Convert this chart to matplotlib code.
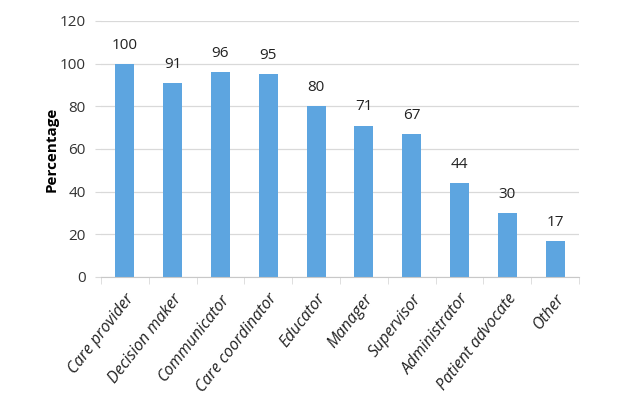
import matplotlib
matplotlib.use("Agg")
import matplotlib.pyplot as plt
import numpy as np

categories = ["Care provider", "Decision maker", "Communicator", "Care coordinator",
              "Educator", "Manager", "Supervisor", "Administrator",
              "Patient advocate", "Other"]
values = [100, 91, 96, 95, 80, 71, 67, 44, 30, 17]
yticks = [0, 20, 40, 60, 80, 100, 120]

plt.rcParams['font.family'] = ['Open Sans', 'DejaVu Sans']

fig = plt.figure(figsize=(6.41, 3.98), dpi=100)
ax = fig.add_axes([101/641, 1 - 277/398, (579 - 101)/641, (277 - 21)/398])

x = np.arange(len(categories))
bar_color = "#5DA5E0"
ax.bar(x, values, width=0.4, color=bar_color, zorder=3)

for xi, v in zip(x, values):
    ax.annotate(str(v), (xi, v), xytext=(0, 8), textcoords="offset points",
                ha="center", va="bottom", fontsize=11, color="#222222")

ax.set_xlim(-0.5, len(categories) - 0.5)
ax.set_ylim(0, 120)
ax.set_yticks(yticks)
ax.set_yticklabels([str(t) for t in yticks], fontsize=11, color="#333333")
ax.grid(axis="y", color="#D9D9D9", linewidth=0.9, zorder=0)
ax.tick_params(axis="y", length=4, color="#D9D9D9", pad=7)

# category separators below the axis
ax.set_xticks(np.arange(len(categories) + 1) - 0.5, minor=True)
ax.set_xticks(x)
ax.set_xticklabels(categories, rotation=52, ha="right", rotation_mode="anchor",
                   fontsize=11.5, style="italic", color="#222222")
ax.tick_params(axis="x", which="major", length=0, pad=10)
ax.tick_params(axis="x", which="minor", length=5, color="#D9D9D9")

for s in ["top", "right", "left"]:
    ax.spines[s].set_visible(False)
ax.spines["bottom"].set_color("#C8C8C8")
ax.spines["bottom"].set_zorder(4)

ax.set_ylabel("Percentage", fontsize=11, fontweight="bold", labelpad=0.5)

fig.savefig("out.png", dpi=100)
